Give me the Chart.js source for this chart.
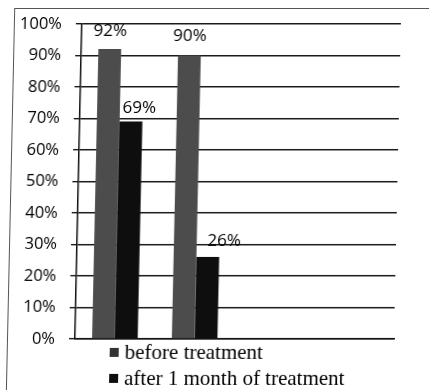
<!DOCTYPE html>
<html>
<head>
<meta charset="utf-8">
<script src="https://cdn.jsdelivr.net/npm/chart.js@4/dist/chart.umd.min.js"></script>
<style>
  html, body { margin: 0; padding: 0; background: #fff; }
  #wrap {
    position: relative; width: 429px; height: 390px; overflow: hidden;
  }
  #sheet {
    position: absolute; left: 0; top: 0; width: 429px; height: 390px;
    transform: skewX(-1.25deg); transform-origin: 0 339px;
  }
  #frame {
    position: absolute; left: 7px; top: 8px; width: 440px; height: 420px;
    border: 1px solid #555; box-sizing: border-box;
  }
  canvas { position: absolute; left: 0; top: 0; }
</style>
</head>
<body>
<div id="wrap">
  <div id="sheet">
    <div id="frame"></div>
    <canvas id="chart" width="429" height="390"></canvas>
  </div>
</div>
<script>
// Chart data
const categories = ['', '', '', ''];
const seriesNames = ['before treatment', 'after 1 month of treatment'];
const beforeTreatment = [92, 90, null, null];
const afterTreatment = [69, 26, null, null];
const yTicks = [0, 10, 20, 30, 40, 50, 60, 70, 80, 90, 100];

const sansFont = "'Open Sans', 'DejaVu Sans', sans-serif";
const serifFont = "'Liberation Serif', 'DejaVu Serif', serif";

// value labels above each bar; [dx, dy] nudges per dataset / point
const valueLabels = {
  id: 'valueLabels',
  afterDatasetsDraw(chart, args, opts) {
    const ctx = chart.ctx;
    ctx.save();
    ctx.font = '17px ' + sansFont;
    ctx.fillStyle = '#000';
    ctx.textAlign = 'center';
    ctx.textBaseline = 'middle';
    chart.data.datasets.forEach((ds, di) => {
      const meta = chart.getDatasetMeta(di);
      meta.data.forEach((bar, i) => {
        const v = ds.data[i];
        if (v === null || v === undefined) return;
        const nudge = (opts.nudges[di] || [])[i] || [0, -14];
        ctx.fillText(v + '%', bar.x + nudge[0], bar.y + nudge[1]);
      });
    });
    ctx.restore();
  }
};

// stacked legend under the plot
const stackedLegend = {
  id: 'stackedLegend',
  afterDraw(chart, args, opts) {
    const ctx = chart.ctx;
    ctx.save();
    ctx.font = '21px ' + serifFont;
    ctx.textBaseline = 'middle';
    ctx.textAlign = 'left';
    chart.data.datasets.forEach((ds, di) => {
      const y = opts.top + di * opts.rowGap;
      ctx.fillStyle = opts.swatch[di];
      ctx.fillRect(opts.left, y - 4, 9, 9);
      ctx.fillStyle = '#000';
      ctx.fillText(ds.label, opts.left + 15, y + 1);
    });
    ctx.restore();
  }
};

new Chart(document.getElementById('chart'), {
  type: 'bar',
  data: {
    labels: categories,
    datasets: [
      { label: seriesNames[0], data: beforeTreatment, backgroundColor: '#4c4c4c' },
      { label: seriesNames[1], data: afterTreatment, backgroundColor: '#0e0e0e' }
    ]
  },
  options: {
    responsive: false,
    animation: false,
    devicePixelRatio: 1,
    categoryPercentage: 2 / 3.5,
    barPercentage: 1,
    layout: { padding: { left: 0, top: 21, right: 35, bottom: 51 } },
    plugins: {
      legend: { display: false },
      tooltip: { enabled: false },
      valueLabels: {
        nudges: [
          [[0, -18], [0, -19]],
          [[8, -13], [16, -16]]
        ]
      },
      stackedLegend: { left: 110, top: 352, rowGap: 26, swatch: ['#333', '#0e0e0e'] }
    },
    scales: {
      x: {
        grid: { display: false, drawTicks: false },
        ticks: { display: false },
        border: { display: true, color: '#111', width: 1.5 }
      },
      y: {
        min: 0, max: 100,
        afterBuildTicks(scale) { scale.ticks = yTicks.map(v => ({ value: v })); },
        afterFit(scale) { scale.width = 75; },
        grid: { color: '#1a1a1a', lineWidth: 1.4, tickLength: 6, tickColor: '#1a1a1a' },
        border: { display: true, color: '#111', width: 1.5 },
        ticks: {
          padding: 14,
          color: '#000',
          font: { family: sansFont, size: 16.5 },
          callback: v => v + '%'
        }
      }
    }
  },
  plugins: [valueLabels, stackedLegend]
});
</script>
</body>
</html>
